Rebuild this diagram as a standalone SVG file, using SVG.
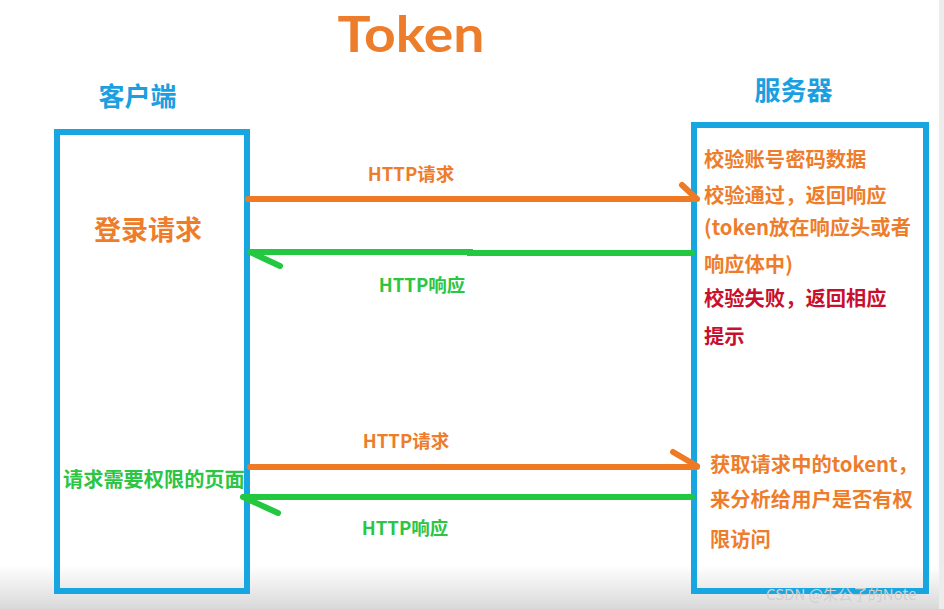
<svg xmlns="http://www.w3.org/2000/svg" width="944" height="609" viewBox="0 0 944 609">
<defs>
<linearGradient id="fade" x1="0" y1="0" x2="0" y2="1">
<stop offset="0" stop-color="#ffffff"/>
<stop offset="1" stop-color="#d9d9d9"/>
</linearGradient>
<style>
text{font-family:"Noto Sans CJK SC","Noto Sans",sans-serif;font-weight:bold}
.box{fill:none;stroke:#17a6e0;stroke-width:6}
.or{fill:#ee7d2b}
.gr{fill:#2cc544}
.bl{fill:#1a9fe0}
.rd{fill:#c8102e}
.req{stroke:#ee7a26;stroke-width:6;stroke-linecap:round;fill:none}
.res{stroke:#22c840;stroke-width:6;stroke-linecap:round;fill:none}
</style>
</defs>
<rect width="944" height="609" fill="#ffffff"/>
<rect x="0" y="565" width="944" height="44" fill="url(#fade)"/>
<rect x="939" y="0" width="5" height="609" fill="#ececec"/>

<text x="411" y="52" class="or" font-size="50" text-anchor="middle" textLength="147" lengthAdjust="spacingAndGlyphs" style="font-family:Lato,'Noto Sans',sans-serif">Token</text>

<g id="client">
<rect class="box" x="57" y="132" width="190" height="459"/>
<text x="137.5" y="106" class="bl" font-size="26" text-anchor="middle">客户端</text>
<text x="148" y="240" class="or" font-size="27" text-anchor="middle">登录请求</text>
<text x="63" y="487" class="gr" font-size="20.2">请求需要权限的页面</text>
</g>

<g id="server">
<rect class="box" x="694" y="125" width="232" height="466"/>
<text x="793.5" y="100" class="bl" font-size="26" text-anchor="middle">服务器</text>
<g font-size="20.3" class="or">
<text x="704" y="167">校验账号密码数据</text>
<text x="704" y="203">校验通过，返回响应</text>
<text x="704" y="235">(token放在响应头或者</text>
<text x="704" y="272">响应体中)</text>
<text x="710" y="472">获取请求中的tokent，</text>
<text x="710" y="507">来分析给用户是否有权</text>
<text x="710" y="547">限访问</text>
</g>
<g font-size="20.3" class="rd">
<text x="704" y="306">校验失败，返回相应</text>
<text x="704" y="344">提示</text>
</g>
</g>

<g id="connectors">
<path class="req" d="M248 199 H697 M682 185 L697 199"/>
<path class="res" d="M692 253 H470 V252 H250 M250 252 L280 266"/>
<path class="req" d="M250 467 H697 M673 452 L697 466"/>
<path class="res" d="M692 497 H243 M243 497 L278 513"/>
<text x="411" y="181" class="or" font-size="18.5" text-anchor="middle">HTTP请求</text>
<text x="422" y="292" class="gr" font-size="18.5" text-anchor="middle">HTTP响应</text>
<text x="406" y="448" class="or" font-size="18.5" text-anchor="middle">HTTP请求</text>
<text x="405" y="535" class="gr" font-size="18.5" text-anchor="middle">HTTP响应</text>
</g>

<text x="766" y="600" font-size="15" fill="#d0d0d0" style="font-weight:normal">CSDN @朱公子的Note</text>
</svg>
